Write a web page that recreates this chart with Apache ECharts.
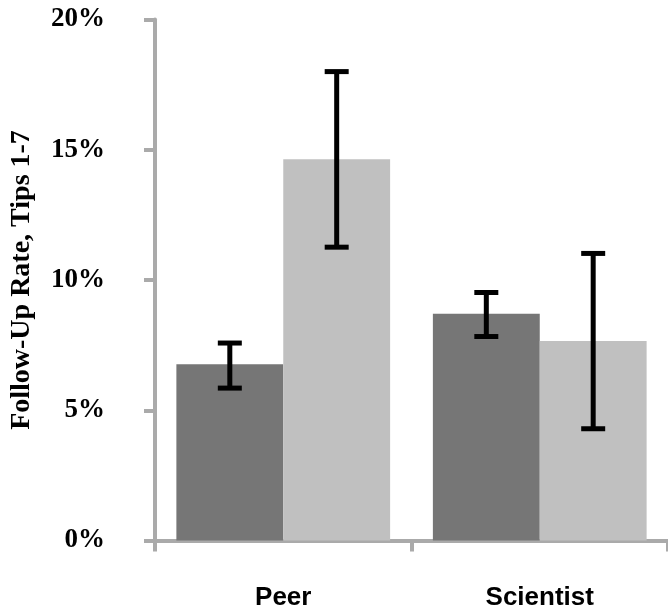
<!DOCTYPE html>
<html>
<head>
<meta charset="utf-8">
<script src="https://cdn.jsdelivr.net/npm/echarts@6/dist/echarts.min.js"></script>
<style>
html,body{margin:0;padding:0;background:#fff;}
#chart{width:668px;height:613px;}
</style>
</head>
<body>
<div id="chart"></div>
<script>
const categories = ['Peer', 'Scientist'];
const darkValues = [6.77, 8.70];
const darkErrLow = [5.85, 7.83];
const darkErrHigh = [7.58, 9.52];
const lightValues = [14.64, 7.66];
const lightErrLow = [11.26, 4.29];
const lightErrHigh = [18.0, 11.02];
const yTicks = [0, 5, 10, 15, 20];

const CAT_GAP = 0.1667;
const AXIS_COLOR = '#aaaaaa';

function errData(lo, hi) {
  return categories.map((c, i) => [i, lo[i], hi[i]]);
}

function makeErrRender(sign) {
  return function (params, api) {
    const idx = api.value(0);
    const lo = api.coord([idx, api.value(1)]);
    const hi = api.coord([idx, api.value(2)]);
    const band = api.size([1, 0])[0];
    const off = sign * band * (1 - CAT_GAP) / 4;
    const cx = lo[0] + off;
    const hw = 12;
    const style = { stroke: '#000', lineWidth: 5, lineCap: 'butt' };
    return {
      type: 'group',
      children: [
        { type: 'line', shape: { x1: cx, y1: hi[1], x2: cx, y2: lo[1] }, style: style },
        { type: 'line', shape: { x1: cx - hw, y1: hi[1], x2: cx + hw, y2: hi[1] }, style: style },
        { type: 'line', shape: { x1: cx - hw, y1: lo[1], x2: cx + hw, y2: lo[1] }, style: style }
      ]
    };
  };
}

const chart = echarts.init(document.getElementById('chart'), null, { renderer: 'canvas' });
chart.setOption({
  animation: false,
  backgroundColor: '#ffffff',
  grid: { left: 155, top: 19.5, width: 516, bottom: 72.5, containLabel: false },
  xAxis: {
    type: 'category',
    data: categories,
    axisLine: { lineStyle: { color: AXIS_COLOR, width: 4 } },
    axisTick: { show: true, length: 11, lineStyle: { color: AXIS_COLOR, width: 4 } },
    axisLabel: {
      margin: 44,
      color: '#000',
      fontFamily: 'Liberation Sans',
      fontWeight: 'bold',
      fontSize: 26
    },
    splitLine: { show: false }
  },
  yAxis: {
    type: 'value',
    min: yTicks[0],
    max: yTicks[yTicks.length - 1],
    interval: yTicks[1] - yTicks[0],
    name: 'Follow-Up Rate, Tips 1-7',
    nameLocation: 'middle',
    nameGap: 119,
    nameRotate: 90,
    nameTextStyle: {
      color: '#000',
      fontFamily: 'Liberation Serif',
      fontWeight: 'bold',
      fontSize: 28
    },
    axisLine: { show: true, lineStyle: { color: AXIS_COLOR, width: 4 } },
    axisTick: { show: true, length: 11, lineStyle: { color: AXIS_COLOR, width: 4 } },
    axisLabel: {
      margin: 50,
      color: '#000',
      fontFamily: 'Liberation Serif',
      fontWeight: 'bold',
      fontSize: 27,
      formatter: '{value}%'
    },
    splitLine: { show: false }
  },
  series: [
    {
      type: 'bar',
      data: darkValues,
      barGap: '0%',
      barCategoryGap: (CAT_GAP * 100) + '%',
      itemStyle: { color: '#767676' },
      z: 1
    },
    {
      type: 'bar',
      data: lightValues,
      barGap: '0%',
      barCategoryGap: (CAT_GAP * 100) + '%',
      itemStyle: { color: '#c0c0c0' },
      z: 1
    },
    {
      type: 'custom',
      data: errData(darkErrLow, darkErrHigh),
      encode: { x: 0, y: [1, 2] },
      renderItem: makeErrRender(-1),
      z: 5
    },
    {
      type: 'custom',
      data: errData(lightErrLow, lightErrHigh),
      encode: { x: 0, y: [1, 2] },
      renderItem: makeErrRender(1),
      z: 5
    }
  ]
});
</script>
</body>
</html>
